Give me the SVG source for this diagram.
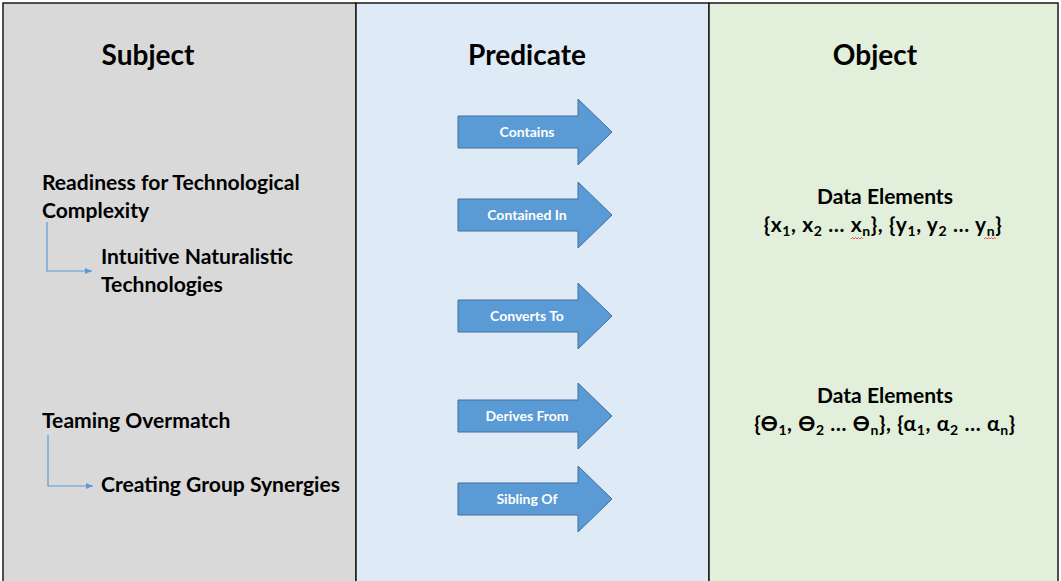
<svg xmlns="http://www.w3.org/2000/svg" width="1061" height="581" viewBox="0 0 1061 581">
<style>
.col{stroke:#1a1a1a;stroke-width:1.5}
.hd{font-family:Lato,"Open Sans",sans-serif;font-weight:bold;font-size:28px;fill:#000;text-anchor:middle}
.sub{font-family:Lato,"Open Sans",sans-serif;font-weight:bold;font-size:21.1px;fill:#000}
.obj{font-family:Lato,"Open Sans",sans-serif;font-weight:bold;font-size:21px;fill:#000;text-anchor:middle}
.arr{fill:#5B9BD5;stroke:#41719C;stroke-width:1}
.al{font-family:Lato,"Open Sans",sans-serif;font-weight:bold;font-size:14px;fill:#fff;text-anchor:middle}
.con{fill:none;stroke:#5B9BD5;stroke-width:1.2}
.sq{fill:none;stroke:#e03030;stroke-width:0.8}
.s{font-size:14px}
</style>
<defs>
<marker id="ah" markerWidth="8" markerHeight="8" refX="7" refY="4" orient="auto" markerUnits="userSpaceOnUse">
<path d="M0,1 L7,4 L0,7 Z" fill="#5B9BD5"/>
</marker>
<path id="arrow" d="M0,-16 L120,-16 L120,-33 L154,0 L120,33 L120,16 L0,16 Z"/>
</defs>
<g id="columns">
<rect class="col" x="3" y="3" width="353" height="590" fill="#D9D9D9"/>
<rect class="col" x="356" y="3" width="353" height="590" fill="#DEEAF6"/>
<rect class="col" x="709" y="3" width="349" height="590" fill="#E2EFDA"/>
<text class="hd" x="148" y="65">Subject</text>
<text class="hd" x="527" y="65">Predicate</text>
<text class="hd" x="875" y="65">Object</text>
</g>
<g id="subject1">
<text class="sub" x="42" y="190">Readiness for Technological</text>
<text class="sub" x="42" y="218">Complexity</text>
</g>
<g id="subject1a">
<text class="sub" x="101" y="264">Intuitive Naturalistic</text>
<text class="sub" x="101" y="292">Technologies</text>
</g>
<g id="subject2">
<text class="sub" x="42" y="428">Teaming Overmatch</text>
</g>
<g id="subject2a">
<text class="sub" x="101" y="492">Creating Group Synergies</text>
</g>
<g id="connectors">
<path class="con" d="M47,222 V271 H92" marker-end="url(#ah)"/>
<path class="con" d="M48,435 V486 H93" marker-end="url(#ah)"/>
</g>
<g id="pred-contains">
<use href="#arrow" class="arr" x="458" y="132"/>
<text class="al" x="527" y="137">Contains</text>
</g>
<g id="pred-containedin">
<use href="#arrow" class="arr" x="458" y="215"/>
<text class="al" x="527" y="220">Contained In</text>
</g>
<g id="pred-convertsto">
<use href="#arrow" class="arr" x="458" y="316"/>
<text class="al" x="527" y="321">Converts To</text>
</g>
<g id="pred-derivesfrom">
<use href="#arrow" class="arr" x="458" y="416"/>
<text class="al" x="527" y="421">Derives From</text>
</g>
<g id="pred-siblingof">
<use href="#arrow" class="arr" x="458" y="499"/>
<text class="al" x="527" y="504">Sibling Of</text>
</g>
<g id="object1">
<text class="obj" x="885" y="204">Data Elements</text>
<text class="obj" x="883" y="232" letter-spacing="0.6">{x<tspan class="s" dy="4">1</tspan><tspan dy="-4">, x</tspan><tspan class="s" dy="4">2</tspan><tspan dy="-4"> … x</tspan><tspan class="s" dy="4">n</tspan><tspan dy="-4">}, {y</tspan><tspan class="s" dy="4">1</tspan><tspan dy="-4">, y</tspan><tspan class="s" dy="4">2</tspan><tspan dy="-4"> … y</tspan><tspan class="s" dy="4">n</tspan><tspan dy="-4">}</tspan></text>
<path class="sq" d="M851,239 l1.5,-1.5 l1.5,1.5 l1.5,-1.5 l1.5,1.5 l1.5,-1.5 l1.5,1.5 l1.5,-1.5 l1.5,1.5"/>
<path class="sq" d="M984,239 l1.5,-1.5 l1.5,1.5 l1.5,-1.5 l1.5,1.5 l1.5,-1.5 l1.5,1.5 l1.5,-1.5 l1.5,1.5"/>
</g>
<g id="object2">
<text class="obj" x="885" y="403">Data Elements</text>
<text class="obj" x="885" y="431" letter-spacing="0.6">{ϴ<tspan class="s" dy="4">1</tspan><tspan dy="-4">, ϴ</tspan><tspan class="s" dy="4">2</tspan><tspan dy="-4"> … ϴ</tspan><tspan class="s" dy="4">n</tspan><tspan dy="-4">}, {α</tspan><tspan class="s" dy="4">1</tspan><tspan dy="-4">, α</tspan><tspan class="s" dy="4">2</tspan><tspan dy="-4"> … α</tspan><tspan class="s" dy="4">n</tspan><tspan dy="-4">}</tspan></text>
</g>
</svg>
